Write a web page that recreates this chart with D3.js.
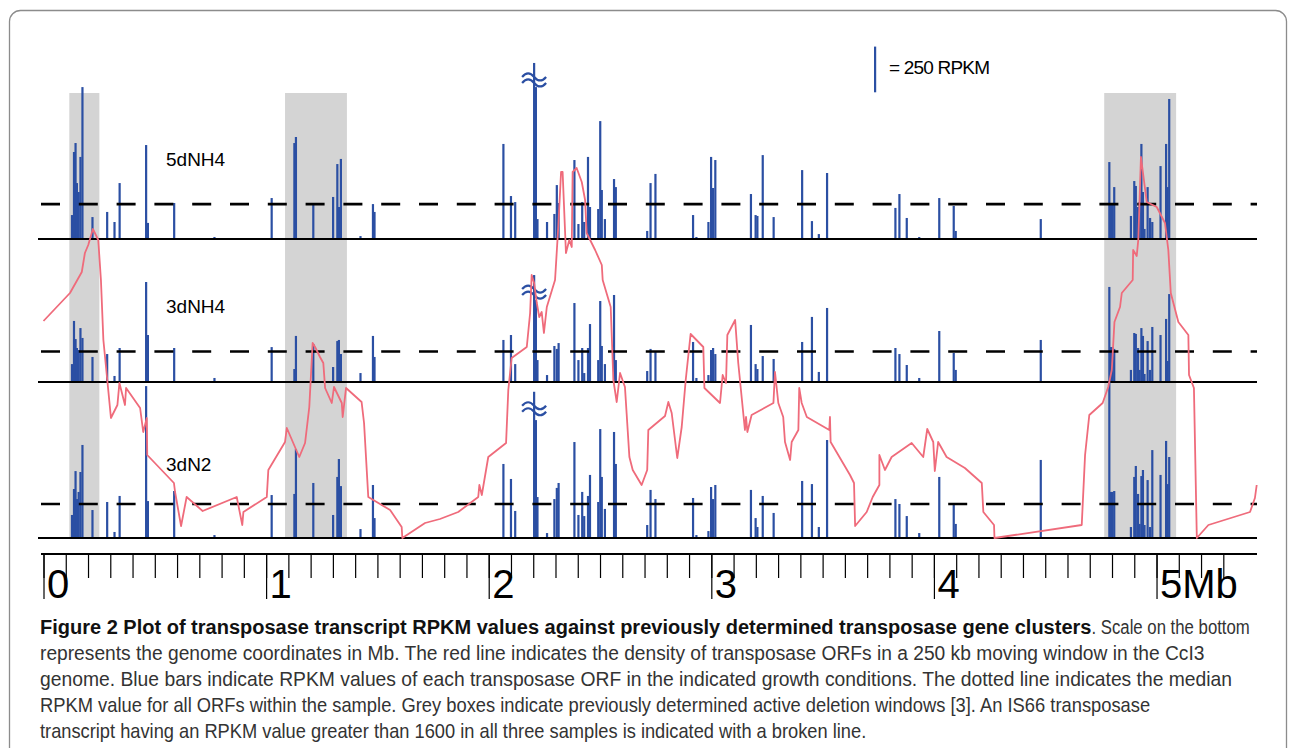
<!DOCTYPE html>
<html>
<head>
<meta charset="utf-8">
<script src="https://cdn.jsdelivr.net/npm/d3@7"></script>
<style>
  body { margin: 0; background: #fff; }
  svg { display: block; }
</style>
</head>
<body>
<script>
'use strict';

// transposase ORF positions on the genome (Mb)
const orfPositions = [
  0.128, 0.137, 0.144, 0.150, 0.158, 0.166, 0.175, 0.220, 0.286, 0.319,
  0.342, 0.461, 0.469, 0.587, 0.768, 1.025, 1.127, 1.134, 1.212, 1.301,
  1.320, 1.327, 1.336, 1.424, 1.480, 1.487, 2.066, 2.100, 2.119, 2.212,
  2.219, 2.262, 2.295, 2.306, 2.314, 2.385, 2.403, 2.420, 2.429, 2.446,
  2.455, 2.492, 2.501, 2.508, 2.522, 2.563, 2.571, 2.712, 2.727, 2.749,
  2.918, 2.933, 2.987, 2.999, 3.008, 3.018, 3.178, 3.199, 3.207, 3.231,
  3.280, 3.408, 3.452, 3.483, 3.520, 3.827, 3.845, 3.878, 3.934, 4.024,
  4.089, 4.098, 4.480, 4.788, 4.795, 4.802, 4.810, 4.885, 4.900, 4.907,
  4.917, 4.924, 4.932, 4.939, 4.946, 4.960, 4.971, 4.981, 5.018, 5.043,
  5.050, 5.057
];

// RPKM values per growth condition (same ORF order as above)
const rpkm5dNH4 = [
  131, 476, 525, 306, 257, 449, 831, 120, 148, 93,
  306, 514, 88, 197, 11, 224, 525, 558, 186, 230,
  410, 175, 438, 16, 191, 148, 520, 235, 202, 831,
  109, 93, 137, 295, 197, 432, 82, 202, 93, 449,
  175, 164, 645, 268, 109, 328, 284, 44, 306, 356,
  131, 11, 93, 449, 279, 432, 246, 131, 126, 459,
  120, 377, 98, 27, 361, 170, 246, 115, 11, 224,
  181, 44, 109, 421, 197, 197, 284, 126, 317, 290,
  175, 202, 520, 257, 55, 284, 115, 93, 399, 520,
  284, 766
];
const rpkm3dNH4 = [
  98, 334, 235, 186, 175, 295, 241, 137, 153, 33,
  186, 547, 257, 186, 22, 191, 71, 252, 208, 82,
  224, 230, 153, 49, 252, 137, 230, 257, 98, 449,
  120, 38, 197, 181, 213, 432, 120, 186, 49, 186,
  317, 120, 443, 197, 98, 476, 120, 60, 181, 164,
  219, 22, 38, 175, 186, 153, 312, 98, 71, 142,
  126, 219, 356, 55, 405, 186, 153, 93, 22, 279,
  159, 66, 230, 520, 191, 191, 181, 66, 268, 263,
  186, 66, 295, 252, 44, 224, 66, 301, 257, 345,
  115, 481
];
const rpkm3dN2 = [
  126, 268, 366, 213, 252, 361, 509, 153, 197, 33,
  230, 831, 202, 257, 16, 235, 241, 487, 301, 126,
  334, 432, 284, 49, 290, 109, 405, 323, 148, 645,
  224, 27, 213, 274, 301, 525, 126, 252, 120, 230,
  345, 197, 596, 334, 159, 580, 405, 71, 263, 213,
  219, 16, 38, 279, 213, 290, 263, 109, 60, 230,
  137, 312, 295, 60, 536, 213, 186, 120, 27, 334,
  181, 77, 427, 853, 252, 252, 257, 60, 334, 394,
  241, 77, 339, 372, 71, 317, 60, 481, 345, 531,
  295, 443
];

const sampleNames = ['5dNH4', '3dNH4', '3dN2'];
const medianRpkm = [191, 167, 186];

// IS66 transcript > 1600 RPKM, drawn cut off (broken bar)
const brokenPosition = 2.204;
const brokenCap = [963, 585, 800];

// previously determined active deletion windows (Mb)
const deletionStart = [0.116, 1.085, 4.765];
const deletionEnd = [0.251, 1.363, 5.088];

// transposase ORF density, 250 kb moving window
const densityMb = [
  0.000, 0.119, 0.172, 0.186, 0.201, 0.222, 0.246, 0.258, 0.269, 0.290,
  0.303, 0.332, 0.341, 0.366, 0.371, 0.434, 0.448, 0.464, 0.466, 0.586,
  0.591, 0.618, 0.643, 0.715, 0.868, 0.893, 0.898, 1.003, 1.010, 1.085,
  1.093, 1.149, 1.175, 1.194, 1.209, 1.220, 1.242, 1.257, 1.265, 1.295,
  1.305, 1.340, 1.344, 1.359, 1.429, 1.440, 1.459, 1.557, 1.609, 1.612,
  1.714, 1.781, 1.863, 1.953, 1.958, 1.969, 1.998, 2.078, 2.088, 2.103,
  2.171, 2.186, 2.193, 2.204, 2.216, 2.227, 2.238, 2.248, 2.261, 2.298,
  2.313, 2.325, 2.332, 2.347, 2.362, 2.373, 2.377, 2.395, 2.418, 2.433,
  2.440, 2.478, 2.508, 2.512, 2.548, 2.560, 2.575, 2.590, 2.612, 2.632,
  2.647, 2.687, 2.712, 2.717, 2.792, 2.807, 2.822, 2.847, 2.867, 2.885,
  2.907, 2.964, 2.969, 3.039, 3.051, 3.066, 3.072, 3.107, 3.121, 3.151,
  3.156, 3.162, 3.181, 3.279, 3.286, 3.301, 3.323, 3.331, 3.354, 3.361,
  3.391, 3.395, 3.406, 3.429, 3.530, 3.533, 3.536, 3.623, 3.641, 3.646,
  3.698, 3.725, 3.755, 3.755, 3.780, 3.810, 3.900, 3.952, 3.970, 3.997,
  4.004, 4.019, 4.057, 4.139, 4.215, 4.222, 4.270, 4.272, 4.664, 4.679,
  4.698, 4.758, 4.783, 4.799, 4.811, 4.836, 4.844, 4.893, 4.895, 4.911,
  4.918, 4.930, 4.956, 5.001, 5.038, 5.053, 5.064, 5.098, 5.143, 5.146,
  5.168, 5.181, 5.233, 5.420, 5.442, 5.450
];
const densityCount = [
  21.7, 24.5, 26.6, 28.5, 29.3, 30.9, 29.8, 25.8, 19.8, 15.0,
  12.0, 13.3, 15.5, 13.3, 15.0, 13.0, 10.6, 12.0, 8.3, 5.5,
  4.6, 1.2, 4.1, 2.7, 4.1, 1.3, 2.6, 4.1, 6.8, 9.6,
  11.0, 8.1, 9.5, 13.1, 19.5, 19.1, 18.1, 17.5, 15.0, 13.5,
  15.1, 13.5, 12.1, 15.0, 13.6, 11.5, 4.1, 2.8, 1.1, 0,
  1.5, 1.9, 2.6, 4.1, 5.3, 4.3, 8.1, 9.5, 14.8, 18.0,
  19.1, 22.5, 26.3, 25.5, 23.5, 22.1, 22.6, 20.5, 23.1, 25.8,
  31.3, 36.6, 36.6, 28.5, 29.8, 29.1, 36.6, 37.0, 35.6, 33.8,
  30.5, 28.8, 27.3, 25.8, 23.1, 15.8, 13.6, 16.5, 15.1, 8.1,
  6.8, 5.3, 6.8, 10.8, 12.2, 13.6, 12.5, 8.0, 11.1, 15.8,
  20.4, 19.1, 15.0, 13.5, 16.3, 15.5, 20.3, 21.8, 17.5, 10.8,
  12.1, 10.6, 12.3, 13.5, 16.6, 13.5, 12.1, 9.6, 7.8, 9.6,
  10.8, 15.0, 13.5, 12.1, 10.8, 12.1, 9.6, 6.3, 5.5, 1.2,
  2.6, 4.1, 5.3, 8.3, 6.8, 8.1, 9.5, 8.1, 10.9, 9.6,
  6.7, 9.6, 8.1, 7.0, 5.5, 2.6, 1.3, 0, 1.3, 8.3,
  12.3, 13.5, 15.1, 16.8, 21.6, 23.1, 24.5, 25.8, 28.8, 28.2,
  29.8, 38.1, 33.6, 33.1, 31.5, 28.8, 24.5, 21.6, 20.3, 16.3,
  15.0, 0, 1.3, 2.6, 4.0, 5.3
];

// ruler ticks
const minorTicks = d3.range(0, 54).map((i) => i / 10);
const majorTicks = [0, 1, 2, 3, 4, 5];

const captionBold = 'Figure 2 Plot of transposase transcript RPKM values against previously determined transposase gene clusters';
const captionLines = [
  '. Scale on the bottom',
  'represents the genome coordinates in Mb. The red line indicates the density of transposase ORFs in a 250 kb moving window in the CcI3',
  'genome. Blue bars indicate RPKM values of each transposase ORF in the indicated growth conditions. The dotted line indicates the median',
  'RPKM value for all ORFs within the sample. Grey boxes indicate previously determined active deletion windows [3]. An IS66 transposase',
  'transcript having an RPKM value greater than 1600 in all three samples is indicated with a broken line.'
];

(function() {

  const width = 1295;
  const height = 748;

  const blue = '#2b4fa3';
  const red = '#ef6b7b';
  const grey = '#d4d4d4';

  // panel layout: baseline of each sample track
  const baselines = [239, 382, 538];
  const labelY = [166, 313, 471];
  const barPx250 = 45.7; // pixels for 250 RPKM
  const boxTop = 93;
  const rulerY = 554;

  const svg = d3.select('body')
    .append('svg')
    .attr('width', width)
    .attr('height', height)
    .style('font-family', '"Liberation Sans", Arial, sans-serif');

  // genome coordinate scale
  const x = d3.scaleLinear()
    .domain([0, 5.45])
    .range([43.5, 1256.7]);

  // density scale shared across the whole plot
  const yDensity = d3.scaleLinear()
    .domain([0, 40])
    .range([baselines[2], baselines[2] - 400]);

  // frame
  svg.append('rect')
    .attr('x', 9.5)
    .attr('y', 10.5)
    .attr('width', 1277)
    .attr('height', 780)
    .attr('rx', 11)
    .attr('fill', 'none')
    .attr('stroke', '#8c8c8c')
    .attr('stroke-width', 1.3);

  // grey deletion windows
  svg.selectAll('.window')
    .data(deletionStart)
    .enter()
    .append('rect')
    .attr('class', 'window')
    .attr('x', (d) => x(d))
    .attr('y', boxTop)
    .attr('width', (d, i) => x(deletionEnd[i]) - x(d))
    .attr('height', baselines[2] - boxTop)
    .attr('fill', grey);

  const samples = [rpkm5dNH4, rpkm3dNH4, rpkm3dN2];

  samples.forEach((values, i) => {
    const base = baselines[i];
    const y = d3.scaleLinear()
      .domain([0, 250])
      .range([base, base - barPx250]);

    const g = svg.append('g').attr('class', 'panel');

    // bars
    g.selectAll('.bar')
      .data(values)
      .enter()
      .append('rect')
      .attr('class', 'bar')
      .attr('x', (d, j) => x(orfPositions[j]) - 1.1)
      .attr('y', (d) => y(d))
      .attr('width', 2.2)
      .attr('height', (d) => base - y(d))
      .attr('fill', blue);

    // broken bar
    g.append('rect')
      .attr('x', x(brokenPosition) - 1.1)
      .attr('y', y(brokenCap[i]))
      .attr('width', 2.2)
      .attr('height', base - y(brokenCap[i]))
      .attr('fill', blue);

    const cx = x(brokenPosition);
    const cy = y(brokenCap[i]) + 17;
    [-3, 3].forEach((off) => {
      g.append('path')
        .attr('d', 'M' + (cx - 12) + ',' + (cy + off) +
          ' q6,-7 12,0 t12,0')
        .attr('fill', 'none')
        .attr('stroke', blue)
        .attr('stroke-width', 2.2);
    });

    // median line
    g.append('line')
      .attr('x1', 41)
      .attr('x2', 1257)
      .attr('y1', y(medianRpkm[i]))
      .attr('y2', y(medianRpkm[i]))
      .attr('stroke', '#000')
      .attr('stroke-width', 2.6)
      .attr('stroke-dasharray', '19,18.8');

    // baseline
    g.append('line')
      .attr('x1', 38)
      .attr('x2', 1257)
      .attr('y1', base)
      .attr('y2', base)
      .attr('stroke', '#000')
      .attr('stroke-width', 2);

    // sample name
    g.append('text')
      .attr('x', 166)
      .attr('y', labelY[i])
      .style('font-size', '19px')
      .text(sampleNames[i]);
  });

  // density line
  const densityLine = d3.line()
    .x((d) => x(d[0]))
    .y((d) => yDensity(d[1]));

  svg.append('path')
    .datum(d3.zip(densityMb, densityCount))
    .attr('fill', 'none')
    .attr('stroke', red)
    .attr('stroke-width', 1.8)
    .attr('stroke-linejoin', 'round')
    .attr('d', densityLine);

  // legend: 250 RPKM bar
  svg.append('rect')
    .attr('x', 874)
    .attr('y', 92.3 - barPx250)
    .attr('width', 2.2)
    .attr('height', barPx250)
    .attr('fill', blue);

  svg.append('text')
    .attr('x', 889)
    .attr('y', 74)
    .style('font-size', '19px')
    .style('letter-spacing', '-0.8px')
    .text('= 250 RPKM');

  // ruler
  const minorAxis = d3.axisBottom(x)
    .tickValues(minorTicks)
    .tickSize(24)
    .tickSizeOuter(0)
    .tickFormat('');

  const ruler = svg.append('g')
    .attr('transform', 'translate(0,' + rulerY + ')')
    .call(minorAxis);
  ruler.select('.domain')
    .attr('d', 'M' + 41 + ',0H' + 1257)
    .attr('stroke-width', 2);
  ruler.selectAll('.tick line').attr('stroke-width', 1.2);

  const majorAxis = d3.axisBottom(x)
    .tickValues(majorTicks)
    .tickSize(45)
    .tickSizeOuter(0)
    .tickFormat((d) => d === 5 ? '5Mb' : d);

  const major = svg.append('g')
    .attr('transform', 'translate(0,' + rulerY + ')')
    .call(majorAxis);
  major.select('.domain').remove();
  major.selectAll('.tick line').attr('stroke-width', 1.2);
  major.selectAll('.tick text')
    .attr('x', 3)
    .attr('y', 44)
    .attr('dy', 0)
    .attr('text-anchor', 'start')
    .attr('fill', '#000')
    .style('font-family', '"Liberation Sans", Arial, sans-serif')
    .style('font-size', '40px');

  // caption, squeezed horizontally to the widths of the original lines
  const capX = 40;
  const capY = [634, 660, 686, 712, 738];
  const capEnd = [1250, 1205, 1233, 1151, 867];
  const boldEnd = 1121;

  // returns the right edge of the fitted text
  function fitText(sel, x0, x1, y0) {
    const natural = sel.node().getComputedTextLength();
    const k = Math.min(1, (x1 - x0) / natural);
    sel.attr('transform', 'translate(' + x0 + ',' + y0 + ') scale(' + k + ',1)');
    return x0 + natural * k;
  }

  const bold = svg.append('text')
    .style('font-size', '20px')
    .style('font-weight', 'bold')
    .attr('fill', '#111')
    .text(captionBold);
  const boldRight = fitText(bold, capX, boldEnd, capY[0]);

  captionLines.forEach((line, i) => {
    const x0 = i === 0 ? boldRight : capX;
    const t = svg.append('text')
      .attr('class', 'caption')
      .style('font-size', '20px')
      .attr('fill', '#333')
      .text(line);
    fitText(t, x0, capEnd[i], capY[i]);
  });

})();
</script>
</body>
</html>
